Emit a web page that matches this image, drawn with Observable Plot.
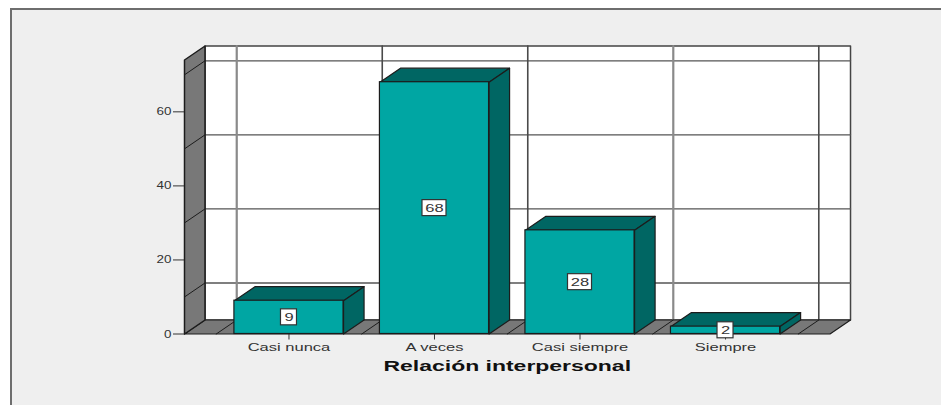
<!DOCTYPE html>
<html><head><meta charset="utf-8">
<script src="https://cdn.jsdelivr.net/npm/d3@7"></script>
<script src="https://cdn.jsdelivr.net/npm/@observablehq/plot@0.6"></script>
<style>
html,body{margin:0;padding:0;background:#fff;width:941px;height:405px;overflow:hidden}
#panel{position:absolute;left:10px;top:8px;right:0;bottom:0;background:#efefef;border-left:2px solid #6e6e6e;border-top:2px solid #6e6e6e}
#chart{position:absolute;left:0;top:0}
svg{background:transparent!important;overflow:visible}
</style></head><body>
<div id="panel"></div><div id="chart"></div>
<script>
const categories = ["Casi nunca", "A veces", "Casi siempre", "Siempre"];
const values = [9, 68, 28, 2];
const yTicks = [0, 20, 40, 60];
const gridValues = [10, 30, 50, 70];
const gridDark = [0.5, 1.5, 3.5];
const gridLight = [-0.5, 2.5];
const xTitle = "Relación interpersonal";
const yMax = 74, xMin = -0.718, xMax = 3.718;
const depthX = 0.141, depthY = 3.78, halfBar = 0.375;

const teal = "#00a6a3", tealDark = "#006663", wall = "#787878", ink = "#1c1c1c";
const pts = (id, list) => list.map(([x, y]) => ({id, x, y}));

const backWall = pts("b", [[xMin + depthX, depthY], [xMax + depthX, depthY], [xMax + depthX, yMax + depthY], [xMin + depthX, yMax + depthY], [xMin + depthX, depthY]]);
const floor = pts("f", [[xMin, 0], [xMax, 0], [xMax + depthX, depthY], [xMin + depthX, depthY], [xMin, 0]]);
const sideWall = pts("s", [[xMin, 0], [xMin + depthX, depthY], [xMin + depthX, yMax + depthY], [xMin, yMax], [xMin, 0]]);
const hGrid = gridValues.flatMap(v => pts("h" + v, [[xMin + depthX, v + depthY], [xMax + depthX, v + depthY]]));
const wallGrid = gridValues.flatMap(v => pts("w" + v, [[xMin, v], [xMin + depthX, v + depthY]]));
const vLine = g => pts("v" + g, [[g + depthX, depthY], [g + depthX, yMax + depthY]]);
const floorLine = g => pts("d" + g, [[g, 0], [g + depthX, depthY]]);
const vDark = gridDark.flatMap(vLine), vLight = gridLight.flatMap(vLine);
const floorGrid = [...gridDark, ...gridLight].flatMap(floorLine);

const barTop = values.flatMap((v, i) => pts("t" + i, [[i - halfBar, v], [i + halfBar, v], [i + halfBar + depthX, v + depthY], [i - halfBar + depthX, v + depthY], [i - halfBar, v]]));
const barSide = values.flatMap((v, i) => pts("r" + i, [[i + halfBar, 0], [i + halfBar, v], [i + halfBar + depthX, v + depthY], [i + halfBar + depthX, depthY], [i + halfBar, 0]]));
const bars = values.map((v, i) => ({i, v}));
const poly = (data, fill, stroke, strokeWidth = 1) => Plot.line(data, {x: "x", y: "y", z: "id", fill, stroke, strokeWidth, curve: "linear"});
const box = (data, half) => Plot.rect(data, {x1: "i", x2: "i", y1: d => d.v / 2, y2: d => d.v / 2, insetLeft: -half, insetRight: -half, insetTop: -8, insetBottom: -8, fill: "#fff", stroke: "#333", strokeWidth: 1.2});

const plot = Plot.plot({
  width: 941, height: 405,
  marginLeft: 184, marginRight: 111.5, marginTop: 59.5, marginBottom: 71.5,
  style: {fontFamily: "'Liberation Sans', Arial, sans-serif", fontSize: "11px", color: "#333"},
  x: {domain: [xMin, xMax], axis: null},
  y: {domain: [0, yMax], axis: null},
  marks: [
    poly(backWall, "#fff", "#444", 1.5),
    poly(hGrid, "none", "#555", 1.3),
    poly(vLight, "none", "#8a8a8a", 2.2),
    poly(vDark, "none", "#4a4a4a", 1.6),
    poly(floor, wall, ink, 1.2),
    poly(floorGrid, "none", ink, 1),
    poly(sideWall, wall, ink, 1.5),
    poly(wallGrid, "none", ink, 1),
    Plot.axisY({ticks: yTicks, tickSize: 11, tickPadding: 2, label: null, stroke: "#333", fontSize: 11}),
    Plot.axisX({ticks: [0, 1, 2, 3], tickFormat: i => categories[i], tickSize: 6, tickPadding: 3, label: null, stroke: "#333", fontSize: 11}),
    Plot.text([xTitle], {frameAnchor: "bottom", x: () => (xMin + xMax) / 2, dy: 33, fontSize: 14, fontWeight: "bold", fill: "#111", lineAnchor: "middle"}),
    poly(barTop, tealDark, ink, 1.2),
    poly(barSide, tealDark, ink, 1.2),
    Plot.rect(bars, {x1: d => d.i - halfBar, x2: d => d.i + halfBar, y1: 0, y2: "v", fill: teal, stroke: ink, strokeWidth: 1.2}),
    box(bars.filter(d => d.v < 10), 8),
    box(bars.filter(d => d.v >= 10), 12),
    Plot.text(bars, {x: "i", y: d => d.v / 2, text: d => String(d.v), fontSize: 11, fill: "#333", className: "val"})
  ]
});
document.getElementById("chart").append(plot);
plot.querySelectorAll("text").forEach(t => {
  const n = t.textContent;
  const isValue = t.closest(".val") !== null;
  const factor = n === xTitle ? 1.64 : /^\d+$/.test(n) ? (isValue ? 1.5 : 1.22) : 1.5;
  const len = t.getComputedTextLength();
  if (len > 0) { t.setAttribute("textLength", len * factor); t.setAttribute("lengthAdjust", "spacingAndGlyphs"); }
});
</script>
</body></html>
